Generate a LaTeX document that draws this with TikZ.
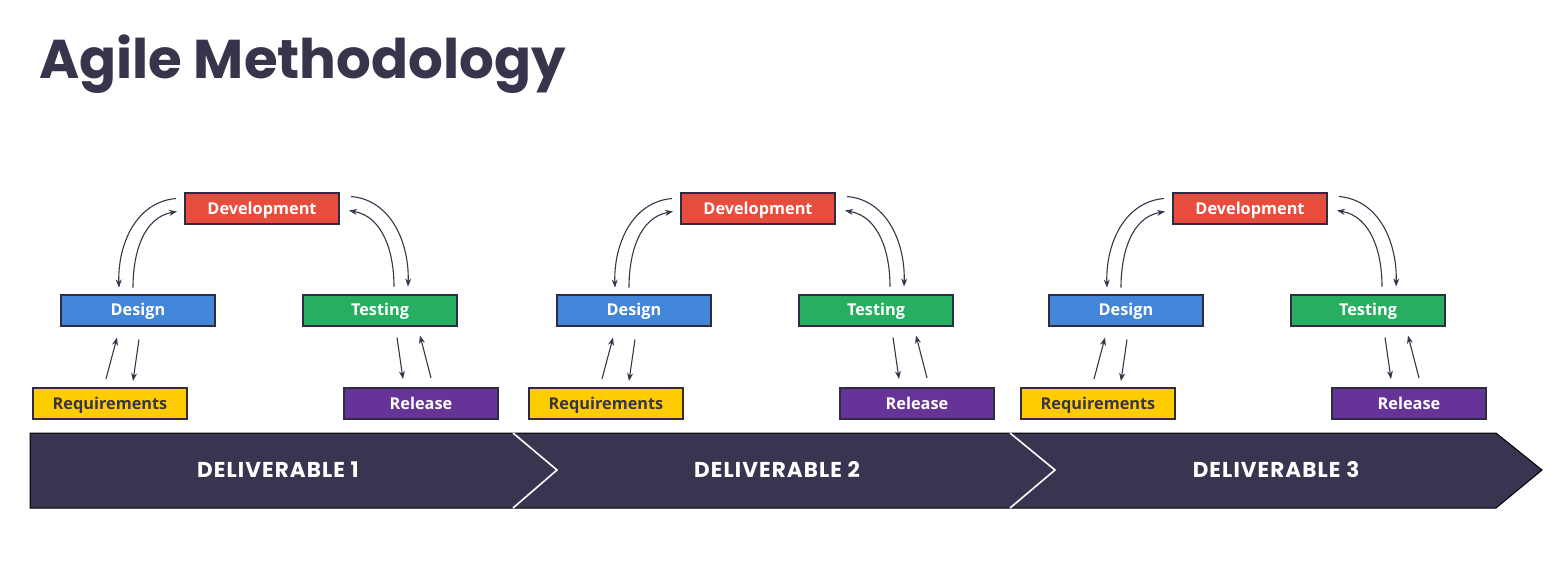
\documentclass[tikz,border=0pt]{standalone}
\usepackage{fontspec}
\setmainfont{Open Sans}
\newfontfamily\headfont{Poppins}
\newfontfamily\bandfont{Poppins}[LetterSpace=5]
\usetikzlibrary{arrows.meta,calc}

\definecolor{ink}{HTML}{37344B}
\definecolor{band}{HTML}{393550}
\definecolor{boxline}{HTML}{2E2C40}
\definecolor{devred}{HTML}{E84C3D}
\definecolor{desblue}{HTML}{4285D9}
\definecolor{tstgreen}{HTML}{27AE60}
\definecolor{reqyellow}{HTML}{FFCC00}
\definecolor{relpurple}{HTML}{663399}

\tikzset{
  phase/.style={draw=boxline,line width=2pt,minimum width=154pt,minimum height=31pt,
    inner sep=0pt,text height=11.6pt,text depth=0pt,text=white,font=\fontsize{16.3}{18}\selectfont\bfseries},
  flow/.style={draw=ink,line width=1.1pt,-{Stealth[length=8pt,width=6pt]}}
}

\begin{document}
\begin{tikzpicture}[x=1pt,y=1pt]
\useasboundingbox (0,0) rectangle (1566,-568);
\node[anchor=base west,inner sep=0pt,text=ink,font=\headfont\fontsize{54.6}{60}\selectfont\bfseries] (title) at (39,-78) {Agile Methodology};
% deliverable band
\draw[fill=band,draw=black,line width=1pt] (30,-433) -- (1496,-433) -- (1542,-470) -- (1496,-508) -- (30,-508) -- cycle;
\draw[white,line width=1.6pt] (513,-433) -- (557,-470) -- (513,-508);
\draw[white,line width=1.6pt] (1010,-433) -- (1055,-470) -- (1010,-508);
\foreach \x/\i in {278/1,777/2,1276/3}
  \node[text=white,inner sep=0pt,text height=14.8pt,text depth=0pt,font=\bandfont\fontsize{21.5}{24}\selectfont\bfseries] (del\i) at (\x,-470) {DELIVERABLE \i};
% one cycle per deliverable
\foreach \ox/\i in {0/1,496/2,988/3}{
  \node[phase,fill=devred] (dev\i) at (262+\ox,-208.5) {Development};
  \node[phase,fill=desblue] (des\i) at (138+\ox,-310) {Design};
  \node[phase,fill=tstgreen] (tst\i) at (380+\ox,-310) {Testing};
  \node[phase,fill=reqyellow,text=ink] (req\i) at (110+\ox,-403.5) {Requirements};
  \node[phase,fill=relpurple] (rel\i) at (421+\ox,-403.5) {Release};
  \draw[flow] ([shift={(-8,10)}]dev\i.west) to[out=185,in=92] ([shift={(-19,6)}]des\i.north);
  \draw[flow] ([shift={(-5,6)}]des\i.north) to[out=90,in=190] ([shift={(-7,-3)}]dev\i.west);
  \draw[flow] ([shift={(11,12)}]dev\i.east) to[out=-5,in=88] ([shift={(28,7)}]tst\i.north);
  \draw[flow] ([shift={(14,7)}]tst\i.north) to[out=90,in=-10] ([shift={(9,-2)}]dev\i.east);
  \draw[flow] ([shift={(-4,8)}]req\i.north) -- ([shift={(-21,-11)}]des\i.south);
  \draw[flow] ([shift={(1,-13)}]des\i.south) -- ([shift={(23,6)}]req\i.north);
  \draw[flow] ([shift={(17,-11)}]tst\i.south) -- ([shift={(-18,8)}]rel\i.north);
  \draw[flow] ([shift={(10,9)}]rel\i.north) -- ([shift={(40,-9)}]tst\i.south);
}
\end{tikzpicture}
\end{document}
